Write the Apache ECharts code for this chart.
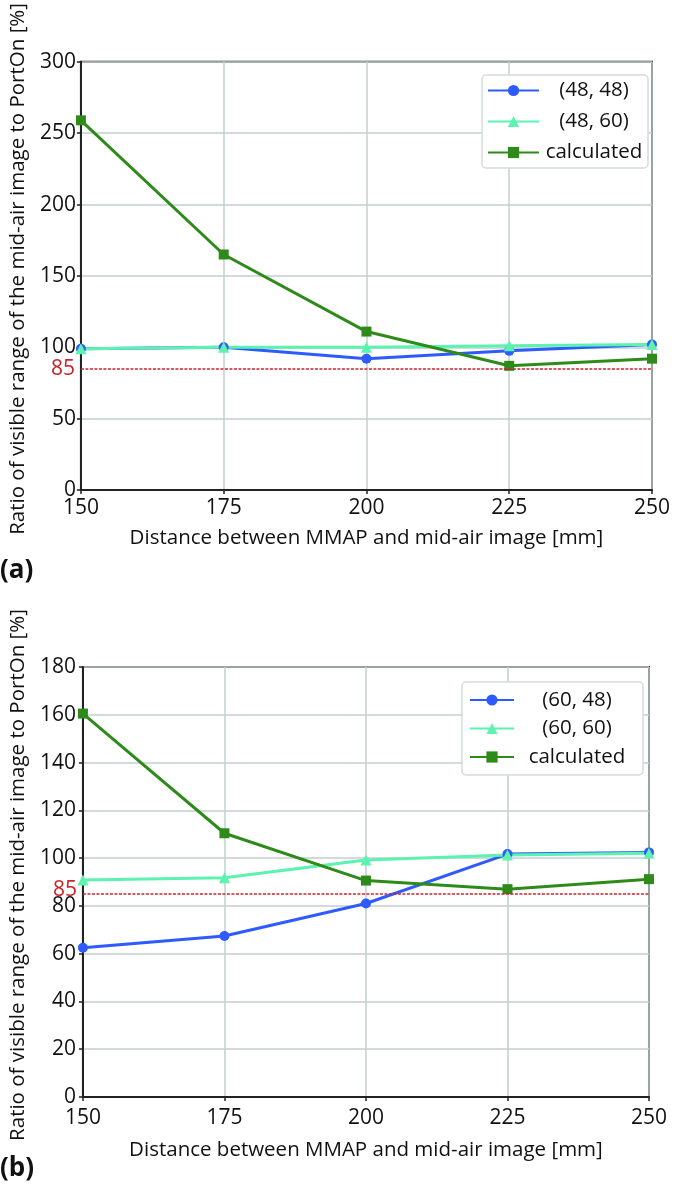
<!DOCTYPE html>
<html>
<head>
<meta charset="utf-8">
<script src="https://cdn.jsdelivr.net/npm/echarts@6/dist/echarts.min.js"></script>
<style>
html,body{margin:0;padding:0;background:#fff;}
#c{width:685px;height:1196px;}
</style>
</head>
<body>
<div id="c"></div>
<script>
// ---- data ----
const distances = [150, 175, 200, 225, 250];
const a_48_48 = [99, 100, 92, 97.5, 102];
const a_48_60 = [99, 100, 100, 101, 102];
const a_calc = [259, 165, 111, 87, 92];
const b_60_48 = [62.5, 67.4, 81, 101.7, 102.4];
const b_60_60 = [90.8, 91.8, 99.2, 101.3, 102];
const b_calc = [160.5, 110.4, 90.6, 87, 91.2];
const threshold = 85;
const namesA = ['(48, 48)', '(48, 60)', 'calculated'];
const namesB = ['(60, 48)', '(60, 60)', 'calculated'];
const xTitle = 'Distance between MMAP and mid-air image [mm]';
const yTitle = 'Ratio of visible range of the mid-air image to PortOn [%]';
const panelLabels = ['(a)', '(b)'];

// ---- styles ----
const FONT = "'Open Sans', 'Noto Sans', sans-serif";
const BLUE = '#2d5bff', MINT = '#5cf2b0', GREEN = '#2e8b1a', RED = '#c8262c';
const GRIDC = '#c3cfcf';

function pair(ys) { return distances.map((x, i) => [x, ys[i]]); }

function xAxisCfg(gi) {
  return {
    type: 'value', gridIndex: gi, min: 150, max: 250, interval: 25,
    name: xTitle, nameLocation: 'middle', nameGap: gi === 0 ? 38 : 43,
    nameTextStyle: { fontFamily: FONT, fontSize: 20.5, color: '#111' },
    axisLine: { show: true, onZero: false, lineStyle: { color: '#222', width: 2 } },
    axisTick: { show: true, length: 4, lineStyle: { color: '#222', width: 1.5 } },
    axisLabel: { fontFamily: FONT, fontSize: 21, color: '#111', margin: gi === 0 ? 8 : 11 },
    splitLine: { show: true, lineStyle: { color: GRIDC, width: 1.5 } }
  };
}
function yAxisCfg(gi, max, interval) {
  return {
    type: 'value', gridIndex: gi, min: 0, max: max, interval: interval,
    name: yTitle, nameLocation: 'middle', nameGap: gi === 0 ? 45 : 48,
    nameRotate: 90,
    nameTextStyle: { fontFamily: FONT, fontSize: 20.5, color: '#111', padding: [0, 0, 0, 14] },
    axisLine: { show: true, onZero: false, lineStyle: { color: '#222', width: 2 } },
    axisTick: { show: true, length: 4, lineStyle: { color: '#222', width: 1.5 } },
    axisLabel: { fontFamily: FONT, fontSize: 21, color: '#111', margin: gi === 0 ? 5 : 7 },
    splitLine: { show: true, lineStyle: { color: GRIDC, width: 1.5 } }
  };
}
function lineSeries(name, ys, gi, color, symbol, size, withMark) {
  const s = {
    name: name, type: 'line', xAxisIndex: gi, yAxisIndex: gi,
    data: pair(ys), symbol: symbol, symbolSize: size,
    lineStyle: { color: color, width: 3 }, itemStyle: { color: color },
    z: 3
  };
  if (withMark) {
    s.markLine = {
      silent: true, symbol: 'none', animation: false,
      lineStyle: { color: RED, width: 1.5, type: [3, 1.5] },
      label: { show: true, position: 'start', formatter: '{c}', color: RED,
               fontFamily: FONT, fontSize: 21, distance: 6, offset: [0, gi === 0 ? 0 : -4] },
      data: [{ yAxis: threshold }]
    };
  }
  return s;
}
function legendCfg(names, left, top, itemW, textW, gap, lh, pad) {
  return {
    data: names, orient: 'vertical', left: left, top: top,
    itemWidth: itemW, itemHeight: 14, itemGap: gap, itemTextGap: 5,
    padding: pad, backgroundColor: '#fff', borderColor: '#d3dbdb', borderWidth: 1.5,
    borderRadius: 4,
    formatter: n => '{t|' + n + '}',
    textStyle: { fontFamily: FONT, fontSize: 20.5, color: '#111',
      rich: { t: { width: textW, align: 'center', fontFamily: FONT, fontSize: 20.5, lineHeight: lh, color: '#111' } } }
  };
}

const chart = echarts.init(document.getElementById('c'), null, { renderer: 'canvas' });
chart.setOption({
  animation: false,
  backgroundColor: '#fff',
  grid: [
    { left: 79, top: 52, width: 573, height: 438, show: true, borderColor: '#222', borderWidth: 2, backgroundColor: 'transparent' },
    { left: 82, top: 667, width: 567, height: 430, show: true, borderColor: '#222', borderWidth: 2, backgroundColor: 'transparent' }
  ],
  xAxis: [xAxisCfg(0), xAxisCfg(1)],
  yAxis: [yAxisCfg(0, 300, 50), yAxisCfg(1, 180, 20)],
  legend: [
    legendCfg(namesA, 482, 75, 51, 100, 10, 24, [5, 4, 5, 5]),
    legendCfg(namesB, 462, 682, 44, 116, 7.5, 22, [7.5, 8, 7.5, 7])
  ],
  graphic: [
    { type: 'text', left: 0, top: 558, style: { text: panelLabels[0], font: "bold 26px 'Open Sans', sans-serif", fill: '#111' } },
    { type: 'text', left: 0, top: 1156, style: { text: panelLabels[1], font: "bold 26px 'Open Sans', sans-serif", fill: '#111' } }
  ],
  series: [
    lineSeries(namesA[0], a_48_48, 0, BLUE, 'circle', 10, true),
    lineSeries(namesA[1], a_48_60, 0, MINT, 'triangle', 11, false),
    lineSeries(namesA[2], a_calc, 0, GREEN, 'rect', 10, false),
    lineSeries(namesB[0], b_60_48, 1, BLUE, 'circle', 10, true),
    lineSeries(namesB[1], b_60_60, 1, MINT, 'triangle', 11, false),
    lineSeries(namesB[2], b_calc, 1, GREEN, 'rect', 10, false)
  ]
});
</script>
</body>
</html>
